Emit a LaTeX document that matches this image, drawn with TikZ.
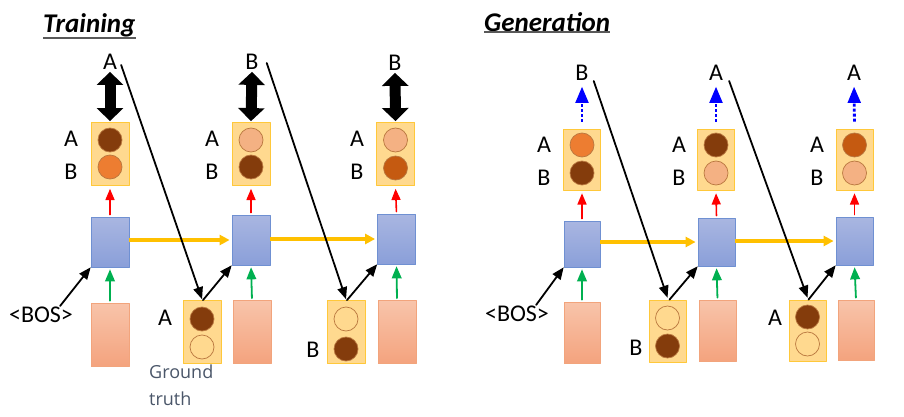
\documentclass[tikz,border=0pt]{standalone}
\usepackage{fontspec}
\setmainfont{Carlito}
\newfontfamily\gtfont{Open Sans}
\usepackage{tikz}
\usetikzlibrary{arrows,arrows.meta,positioning}

\definecolor{probfill}{HTML}{FFD98F}
\definecolor{probline}{HTML}{FFC83A}
\definecolor{rnntop}{HTML}{A9B6E1}
\definecolor{rnnbot}{HTML}{8A9FD9}
\definecolor{rnnline}{HTML}{6F90D2}
\definecolor{pinktop}{HTML}{F8C4AA}
\definecolor{pinkbot}{HTML}{F4A37E}
\definecolor{pinkline}{HTML}{F2A47C}
\definecolor{brdark}{HTML}{843C0C}
\definecolor{brorange}{HTML}{ED7D31}
\definecolor{brburnt}{HTML}{C55A11}
\definecolor{brsalmon}{HTML}{F4B183}
\definecolor{dotline}{HTML}{B9773F}
\definecolor{hyellow}{HTML}{FFC000}
\definecolor{xgreen}{HTML}{00B050}
\definecolor{gtgray}{HTML}{4A5669}

\begin{document}
\begin{tikzpicture}[line cap=round,line join=round,>=triangle 45,x=1pt,y=-1pt,
	probbox/.style={draw=probline,fill=probfill,line width=0.8pt,minimum width=38pt,minimum height=63pt,inner sep=0pt},
	rnnbox/.style={draw=rnnline,top color=rnntop,bottom color=rnnbot,line width=0.8pt,minimum width=38pt,minimum height=50pt,inner sep=0pt},
	embbox/.style={draw=pinkline,top color=pinktop,bottom color=pinkbot,line width=0.8pt,minimum width=38pt,minimum height=63pt,inner sep=0pt},
	dot/.style={circle,draw=dotline,line width=0.7pt,minimum size=24pt,inner sep=0pt},
	lbl/.style={font=\fontsize{24}{28}\selectfont,inner sep=1pt},
	ttl/.style={font=\fontsize{27}{32}\selectfont\bfseries\itshape,inner sep=0pt},
	bigarrow/.style={line width=11pt,line cap=butt,{Triangle[length=13pt,width=26pt]}-{Triangle[length=13pt,width=26pt]}},
	feed/.style={->,line width=1.8pt,black},
	hid/.style={-{Triangle[length=10pt,width=10pt]},line width=3.3pt,hyellow,line cap=butt},
	probarr/.style={->,line width=1.6pt,red,shorten <=2pt,shorten >=3pt},
	inp/.style={->,line width=1.8pt,xgreen,shorten <=2pt,shorten >=2pt},
	samp/.style={->,line width=2.8pt,blue,line cap=butt,dash pattern=on 3pt off 2pt,shorten <=7pt,shorten >=5pt}]
	\fill[white] (0,0) rectangle (904,417);
	\useasboundingbox (0,0) rectangle (904,417);
	% Training
	\node[ttl,anchor=base west] (ttrain) at (43,33) {Training};
	\draw[line width=2pt,gray!70!black,line cap=butt] (ttrain.south west) -- (ttrain.south east);
	\node[lbl] (ty1) at (110,62) {A};
	\node[lbl] (ty2) at (252,62) {B};
	\node[lbl] (ty3) at (395,63) {B};
	\node[probbox] (tp1) at (110,154) {};
	\node[dot,fill=brdark] (tp1a) at (110,140) {};
	\node[dot,fill=brorange] (tp1b) at (110,167) {};
	\node[lbl] (tp1la) at (71,139) {A};
	\node[lbl] (tp1lb) at (71,172) {B};
	\node[probbox] (tp2) at (251,154) {};
	\node[dot,fill=brsalmon] (tp2a) at (251,140) {};
	\node[dot,fill=brdark] (tp2b) at (251,167) {};
	\node[lbl] (tp2la) at (212,139) {A};
	\node[lbl] (tp2lb) at (212,172) {B};
	\node[probbox] (tp3) at (395.5,154) {};
	\node[dot,fill=brsalmon] (tp3a) at (395.5,140) {};
	\node[dot,fill=brburnt] (tp3b) at (395.5,168) {};
	\node[lbl] (tp3la) at (357,139) {A};
	\node[lbl] (tp3lb) at (357,172) {B};
	\node[rnnbox] (tr1) at (110,242) {};
	\node[rnnbox] (tr2) at (251,240) {};
	\node[rnnbox] (tr3) at (396.5,239) {};
	\node[embbox] (tx1) at (110,334.5) {};
	\node[embbox] (tx2) at (252,332) {};
	\node[embbox] (tx3) at (397,332) {};
	\node[probbox] (tg1) at (202,332) {};%ground truth A
	\node[dot,fill=brdark] (tg1a) at (202,319) {};
	\node[dot] (tg1b) at (202,347) {};
	\node[lbl] (tg1l) at (165,318) {A};
	\node[probbox] (tg2) at (346,332) {};%ground truth B
	\node[dot] (tg2a) at (346,319) {};
	\node[dot,fill=brdark] (tg2b) at (346,349) {};
	\node[lbl] (tg2l) at (313,350) {B};
	\node[lbl] (tbos) at (41,315) {<BOS>};
	\node[anchor=north west,align=left,inner sep=0pt,text=gtgray,font=\gtfont\fontsize{18}{27}\selectfont] (gtruth) at (149,365) {Ground\\truth};
	\draw[bigarrow,shorten <=1pt,shorten >=1pt] (ty1.south) -- (tp1.north);
	\draw[bigarrow,shorten <=1pt,shorten >=1pt] (ty2.south) -- (tp2.north);
	\draw[bigarrow,shorten <=1pt,shorten >=1pt] (ty3.south) -- (tp3.north);
	\draw[probarr] (tr1.north) -- (tp1.south);
	\draw[probarr] (tr2.north) -- (tp2.south);
	\draw[probarr] (tr3.north) -- (tp3.south);
	\draw[inp] (tx1.north) -- (tr1.south);
	\draw[inp] (tx2.north) -- (tr2.south);
	\draw[inp] (tx3.north) -- (tr3.south);
	\draw[hid] (tr1.east |- tr2) -- ([xshift=-2pt]tr2.west);
	\draw[hid] (tr2.east |- tr3) -- ([xshift=-2pt]tr3.west);
	\draw[feed] ([xshift=-14pt]tbos.north east) -- (tr1.south west);%bos
	\draw[feed] ([xshift=3pt,yshift=-3pt]ty1.east) -- ([yshift=1pt]tg1.north);
	\draw[feed] ([xshift=1pt]tg1.north) -- (tr2.south west);
	\draw[feed] ([xshift=7pt,yshift=-1pt]ty2.east) -- ([yshift=1pt]tg2.north);
	\draw[feed] ([xshift=1pt]tg2.north) -- (tr3.south west);
	% Generation
	\node[ttl,anchor=base west] (tgen) at (484,32) {Generation};
	\draw[line width=2pt,gray!70!black,line cap=butt] (tgen.south west) -- (tgen.south east);
	\node[lbl] (gy1) at (582,73) {B};
	\node[lbl] (gy2) at (716,73) {A};
	\node[lbl] (gy3) at (854,73) {A};
	\node[probbox,minimum width=37pt,minimum height=61pt] (gp1) at (582,159.5) {};
	\node[dot,fill=brorange] (gp1a) at (582,145) {};
	\node[dot,fill=brdark] (gp1b) at (582,173) {};
	\node[lbl] (gp1la) at (544,145) {A};
	\node[lbl] (gp1lb) at (544,178) {B};
	\node[probbox,minimum width=37pt,minimum height=61pt] (gp2) at (716,159.5) {};
	\node[dot,fill=brdark] (gp2a) at (716,145) {};
	\node[dot,fill=brsalmon] (gp2b) at (716,173) {};
	\node[lbl] (gp2la) at (679,145) {A};
	\node[lbl] (gp2lb) at (679,178) {B};
	\node[probbox,minimum width=37pt,minimum height=61pt] (gp3) at (854.5,159.5) {};
	\node[dot,fill=brburnt] (gp3a) at (854.5,145) {};
	\node[dot,fill=brsalmon] (gp3b) at (854.5,173) {};
	\node[lbl] (gp3la) at (817,145) {A};
	\node[lbl] (gp3lb) at (817,178) {B};
	\node[rnnbox,minimum width=36pt,minimum height=46pt] (gr1) at (582,244) {};
	\node[rnnbox,minimum width=37pt,minimum height=48pt] (gr2) at (716.5,242) {};
	\node[rnnbox,minimum width=37pt,minimum height=48pt] (gr3) at (854.5,241) {};
	\node[embbox,minimum width=36pt,minimum height=61pt] (gx1) at (582,332.5) {};
	\node[embbox,minimum width=37pt,minimum height=61pt] (gx2) at (717.5,330.5) {};
	\node[embbox,minimum width=36pt,minimum height=60pt] (gx3) at (856,330) {};
	\node[probbox,minimum width=37pt,minimum height=62pt] (gg1) at (667.5,331) {};%sampled B
	\node[dot] (gg1a) at (667.5,318) {};
	\node[dot,fill=brdark] (gg1b) at (667.5,346) {};
	\node[lbl] (gg1l) at (636,348) {B};
	\node[probbox,minimum width=37pt,minimum height=61pt] (gg2) at (807.5,330.5) {};%sampled A
	\node[dot,fill=brdark] (gg2a) at (807.5,317) {};
	\node[dot] (gg2b) at (807.5,344) {};
	\node[lbl] (gg2l) at (775,318) {A};
	\node[lbl] (gbos) at (517,314) {<BOS>};
	\draw[samp] (gp1.north) -- (gy1.south);
	\draw[samp] (gp2.north) -- (gy2.south);
	\draw[samp] (gp3.north) -- (gy3.south);
	\draw[probarr] (gr1.north) -- (gp1.south);
	\draw[probarr] (gr2.north) -- (gp2.south);
	\draw[probarr] (gr3.north) -- (gp3.south);
	\draw[inp] (gx1.north) -- (gr1.south);
	\draw[inp] (gx2.north) -- (gr2.south);
	\draw[inp] (gx3.north) -- (gr3.south);
	\draw[hid] (gr1.east |- gr2) -- ([xshift=-2pt]gr2.west);
	\draw[hid] (gr2.east |- gr3) -- ([xshift=-2pt]gr3.west);
	\draw[feed] ([xshift=-14pt]gbos.north east) -- (gr1.south west);%bos
	\draw[feed] ([xshift=4pt,yshift=-8pt]gy1.east) -- ([yshift=2pt]gg1.north);
	\draw[feed] ([xshift=2pt]gg1.north) -- (gr2.south west);
	\draw[feed] ([xshift=5pt,yshift=-8pt]gy2.east) -- ([yshift=2pt]gg2.north);
	\draw[feed] ([xshift=1pt]gg2.north) -- (gr3.south west);
\end{tikzpicture}
\end{document}
